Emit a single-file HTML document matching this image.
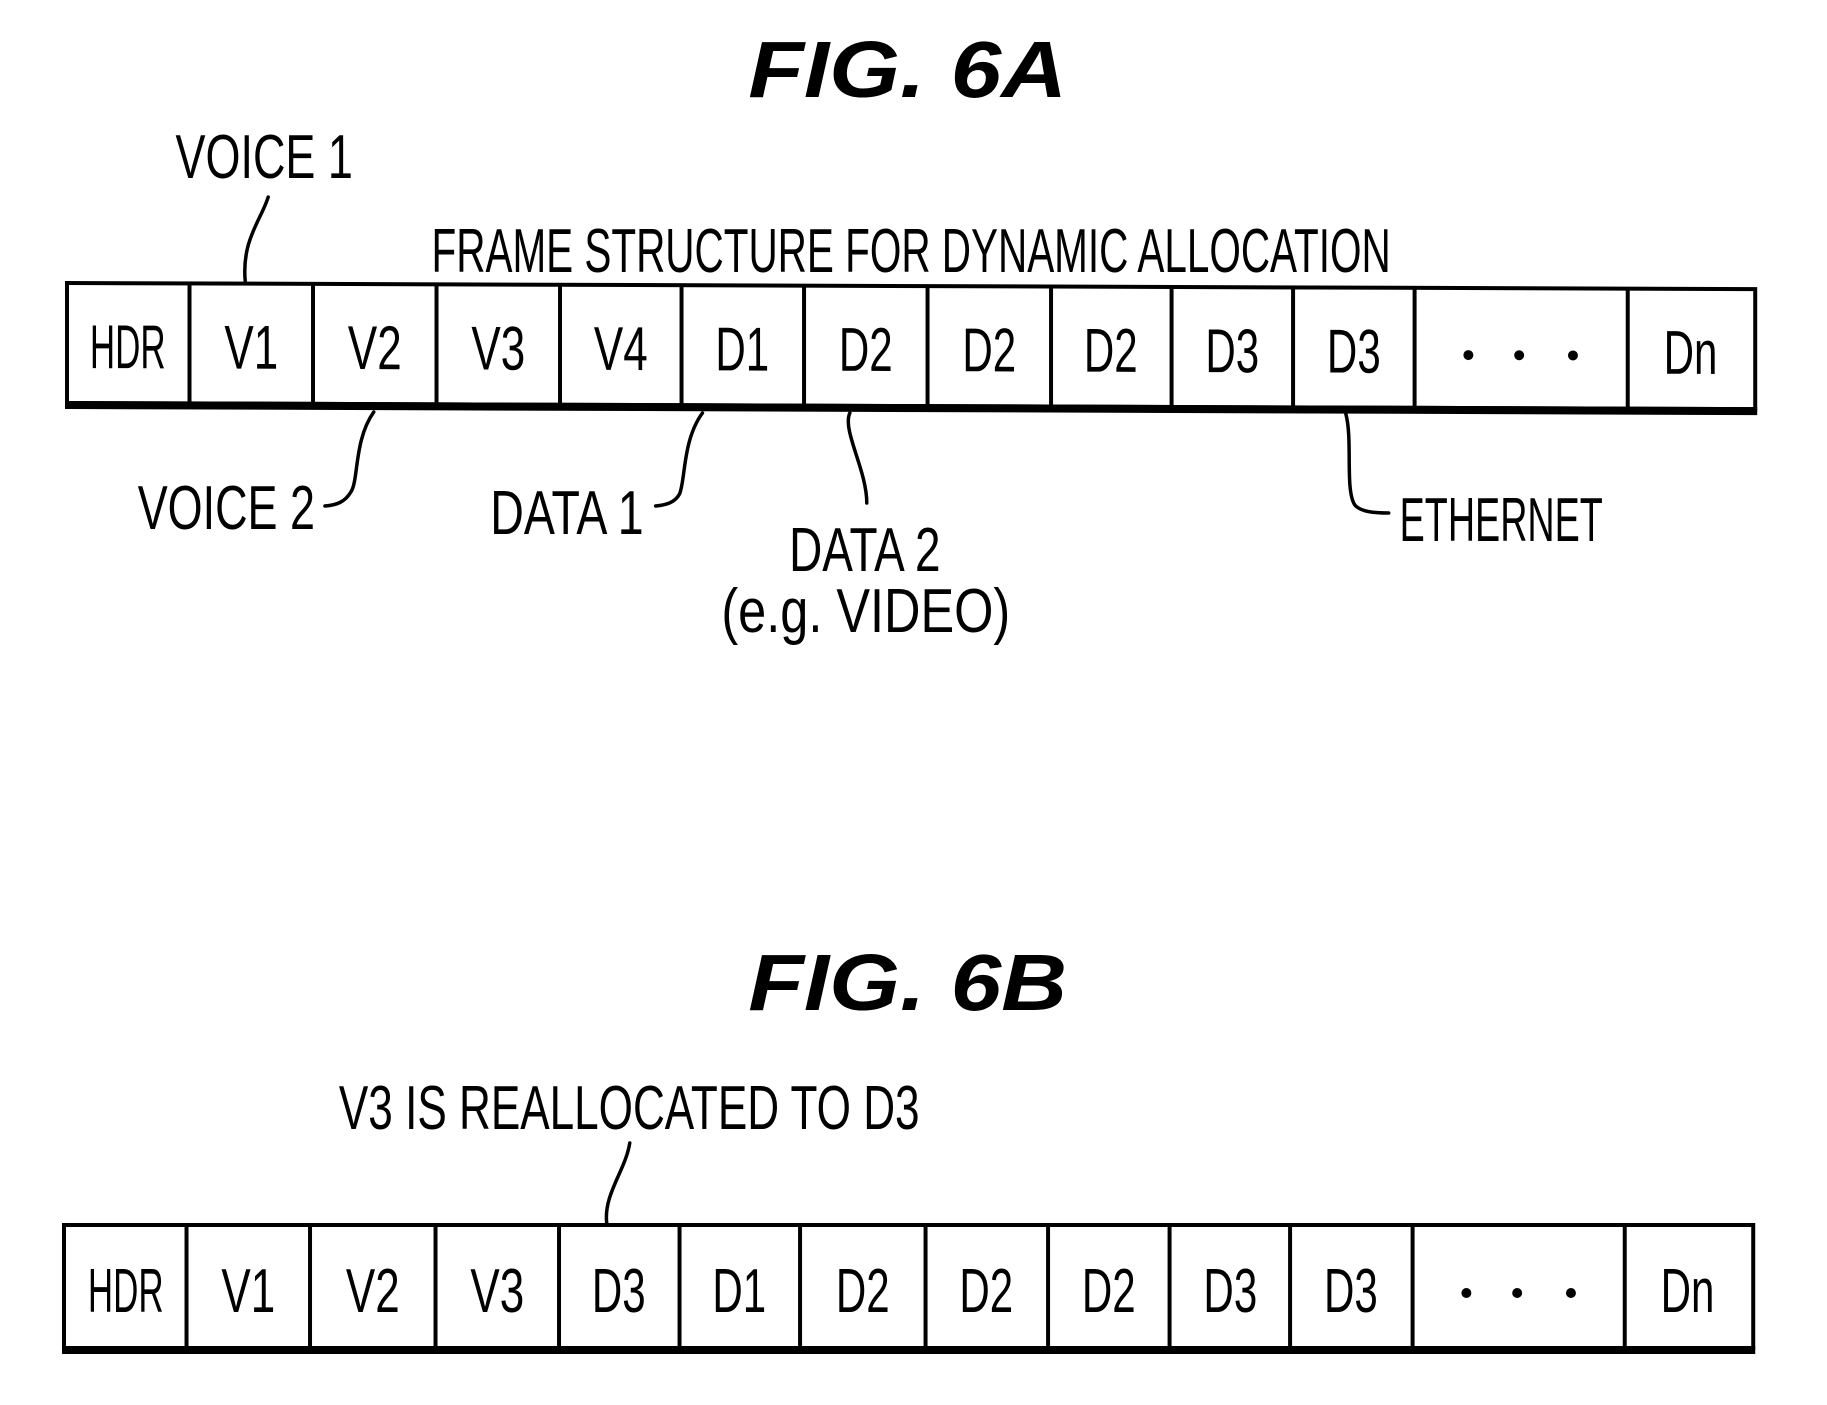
<!DOCTYPE html>
<html><head><meta charset="utf-8"><style>html,body{margin:0;padding:0;background:#fff}svg{display:block}</style></head>
<body>
<svg width="1827" height="1405" viewBox="0 0 1827 1405" xmlns="http://www.w3.org/2000/svg" font-family="Liberation Sans, sans-serif">
<rect width="1827" height="1405" fill="#fff"/>
<g transform="translate(0.27,0) scale(0.996,1)">
<g fill="#000" font-weight="bold" font-style="italic" font-size="80">
<text x="751" y="97" textLength="320" lengthAdjust="spacingAndGlyphs">FIG. 6A</text>
<text x="751" y="1010" textLength="320" lengthAdjust="spacingAndGlyphs">FIG. 6B</text>
</g>
<g fill="#000" font-size="62">
<text x="176" y="178" textLength="178" lengthAdjust="spacingAndGlyphs">VOICE 1</text>
<text x="433" y="272" textLength="963" lengthAdjust="spacingAndGlyphs">FRAME STRUCTURE FOR DYNAMIC ALLOCATION</text>
<text x="138" y="529" textLength="178" lengthAdjust="spacingAndGlyphs">VOICE 2</text>
<text x="492" y="534" textLength="154" lengthAdjust="spacingAndGlyphs">DATA 1</text>
<text x="792" y="571" textLength="152" lengthAdjust="spacingAndGlyphs">DATA 2</text>
<text x="724" y="632" textLength="290" lengthAdjust="spacingAndGlyphs">(e.g. VIDEO)</text>
<text x="1405" y="541" textLength="204" lengthAdjust="spacingAndGlyphs">ETHERNET</text>
<text x="340" y="1129" textLength="583" lengthAdjust="spacingAndGlyphs">V3 IS REALLOCATED TO D3</text>
</g>
<g fill="none" stroke="#000" stroke-width="3.5" stroke-linecap="round">
<path d="M269,197 C262,220 242,240 246,282"/>
<path d="M375,412 C355,440 360,480 352,492 C346,502 338,505 326,506"/>
<path d="M705,413 C685,440 688,480 682,494 C677,503 668,505 658,506"/>
<path d="M853,413 C845,430 870,470 870,503"/>
<path d="M1351,414 C1358,440 1350,490 1360,505 C1366,512 1380,513 1394,513"/>
<path d="M632,1143 C628,1170 605,1195 609,1224"/>
</g>
<g transform="matrix(1,0.0036,0,1,0,-0.24)">
<g stroke="#000" fill="none">
<rect x="67" y="283" width="1695" height="120" stroke-width="4"/>
<line x1="65" y1="405" x2="1764" y2="405" stroke-width="8"/>
<g stroke-width="4">
<line x1="190" y1="283" x2="190" y2="405"/><line x1="314" y1="283" x2="314" y2="405"/>
<line x1="438" y1="283" x2="438" y2="405"/><line x1="562" y1="283" x2="562" y2="405"/>
<line x1="684" y1="283" x2="684" y2="405"/><line x1="807" y1="283" x2="807" y2="405"/>
<line x1="931" y1="283" x2="931" y2="405"/><line x1="1055" y1="283" x2="1055" y2="405"/>
<line x1="1176" y1="283" x2="1176" y2="405"/><line x1="1298" y1="283" x2="1298" y2="405"/>
<line x1="1420" y1="283" x2="1420" y2="405"/><line x1="1634" y1="283" x2="1634" y2="405"/>
</g></g>
<g fill="#000" font-size="62" text-anchor="middle">
<text x="128" y="368" textLength="76" lengthAdjust="spacingAndGlyphs">HDR</text>
<text x="252" y="368" textLength="54" lengthAdjust="spacingAndGlyphs">V1</text>
<text x="376" y="368" textLength="54" lengthAdjust="spacingAndGlyphs">V2</text>
<text x="500" y="368" textLength="54" lengthAdjust="spacingAndGlyphs">V3</text>
<text x="623" y="368" textLength="54" lengthAdjust="spacingAndGlyphs">V4</text>
<text x="745" y="368" textLength="54" lengthAdjust="spacingAndGlyphs">D1</text>
<text x="869" y="368" textLength="54" lengthAdjust="spacingAndGlyphs">D2</text>
<text x="993" y="368" textLength="54" lengthAdjust="spacingAndGlyphs">D2</text>
<text x="1115" y="368" textLength="54" lengthAdjust="spacingAndGlyphs">D2</text>
<text x="1237" y="368" textLength="54" lengthAdjust="spacingAndGlyphs">D3</text>
<text x="1359" y="368" textLength="54" lengthAdjust="spacingAndGlyphs">D3</text>
<text x="1697" y="368" textLength="54" lengthAdjust="spacingAndGlyphs">Dn</text>
</g>
<g fill="#000"><circle cx="1474" cy="350" r="5"/><circle cx="1525" cy="350" r="5"/><circle cx="1579" cy="350" r="5"/></g>
</g>
<g fill="#000"><circle cx="1472" cy="1293" r="5"/><circle cx="1523" cy="1293" r="5"/><circle cx="1577" cy="1293" r="5"/></g>
<g stroke="#000" fill="none">
<rect x="64" y="1225" width="1696" height="123" stroke-width="4"/>
<line x1="62" y1="1350" x2="1762" y2="1350" stroke-width="8"/>
<g stroke-width="4">
<line x1="187" y1="1225" x2="187" y2="1350"/><line x1="311" y1="1225" x2="311" y2="1350"/>
<line x1="437" y1="1225" x2="437" y2="1350"/><line x1="561" y1="1225" x2="561" y2="1350"/>
<line x1="682" y1="1225" x2="682" y2="1350"/><line x1="803" y1="1225" x2="803" y2="1350"/>
<line x1="929" y1="1225" x2="929" y2="1350"/><line x1="1052" y1="1225" x2="1052" y2="1350"/>
<line x1="1174" y1="1225" x2="1174" y2="1350"/><line x1="1295" y1="1225" x2="1295" y2="1350"/>
<line x1="1418" y1="1225" x2="1418" y2="1350"/><line x1="1631" y1="1225" x2="1631" y2="1350"/>
</g></g>
<g fill="#000" font-size="62" text-anchor="middle">
<text x="126" y="1312" textLength="76" lengthAdjust="spacingAndGlyphs">HDR</text>
<text x="249" y="1312" textLength="54" lengthAdjust="spacingAndGlyphs">V1</text>
<text x="374" y="1312" textLength="54" lengthAdjust="spacingAndGlyphs">V2</text>
<text x="499" y="1312" textLength="54" lengthAdjust="spacingAndGlyphs">V3</text>
<text x="621" y="1312" textLength="54" lengthAdjust="spacingAndGlyphs">D3</text>
<text x="742" y="1312" textLength="54" lengthAdjust="spacingAndGlyphs">D1</text>
<text x="866" y="1312" textLength="54" lengthAdjust="spacingAndGlyphs">D2</text>
<text x="990" y="1312" textLength="54" lengthAdjust="spacingAndGlyphs">D2</text>
<text x="1113" y="1312" textLength="54" lengthAdjust="spacingAndGlyphs">D2</text>
<text x="1235" y="1312" textLength="54" lengthAdjust="spacingAndGlyphs">D3</text>
<text x="1356" y="1312" textLength="54" lengthAdjust="spacingAndGlyphs">D3</text>
<text x="1694" y="1312" textLength="54" lengthAdjust="spacingAndGlyphs">Dn</text>
</g>
</g>
</svg>
</body></html>
